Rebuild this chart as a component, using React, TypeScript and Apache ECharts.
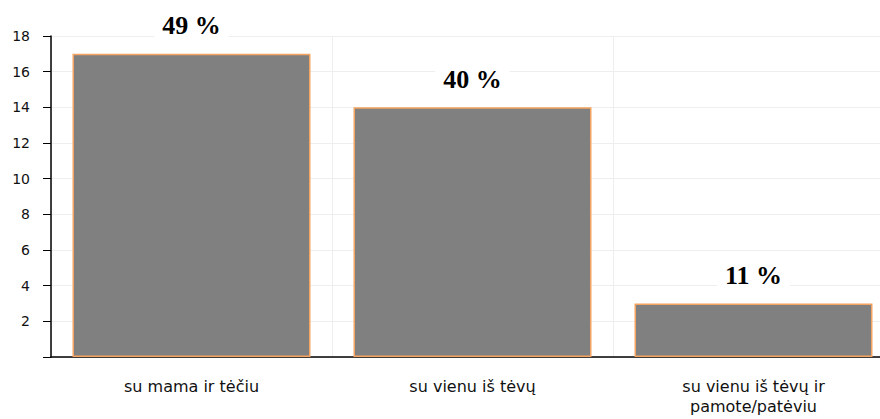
import React, { useEffect, useRef } from "react";
import * as echarts from "echarts";

const categories = ["su mama ir tėčiu", "su vienu iš tėvų", "su vienu iš tėvų ir\npamote/patėviu"];
const values = [17, 14, 3];
const percentLabels = ["49 %", "40 %", "11 %"];

export default function App() {
  const ref = useRef<HTMLDivElement>(null);
  useEffect(() => {
    const chart = echarts.init(ref.current!, null, { renderer: "svg" });
    chart.setOption({
      animation: false,
      grid: { left: 51, top: 36, width: 843, bottom: 62, containLabel: false, outerBoundsMode: "none" },
      xAxis: {
        type: "category",
        data: categories,
        axisLine: { lineStyle: { color: "#000", width: 1.5 } },
        axisTick: { alignWithLabel: true, length: 8, lineStyle: { color: "#000" } },
        axisLabel: { color: "#111", fontFamily: "DejaVu Sans", fontSize: 16, margin: 19, lineHeight: 20 },
        splitLine: { show: true, lineStyle: { color: "#eeeeee" } },
      },
      yAxis: {
        type: "value",
        min: 0,
        max: 18,
        interval: 2,
        axisLine: { show: true, lineStyle: { color: "#000", width: 1.5 } },
        axisTick: { show: true, length: 8, lineStyle: { color: "#000" } },
        axisLabel: {
          color: "#111",
          fontFamily: "DejaVu Sans",
          fontSize: 14,
          margin: 21,
          formatter: (v: number) => (v === 0 ? "" : String(v)),
        },
        splitLine: { show: true, lineStyle: { color: "#eeeeee" } },
      },
      series: [
        {
          type: "bar",
          data: values,
          barWidth: 238,
          itemStyle: { color: "#808080", borderColor: "#f4a460", borderWidth: 1.5 },
          label: {
            show: true,
            position: "top",
            distance: 15,
            formatter: (p: any) => percentLabels[p.dataIndex],
            fontFamily: "Liberation Serif",
            fontWeight: "bold",
            fontSize: 26,
            color: "#000",
            backgroundColor: "#fff",
            padding: [0, 8],
          },
        },
      ],
    });
    return () => chart.dispose();
  }, []);
  return <div ref={ref} style={{ width: 880, height: 419, position: "absolute", left: 0, top: 0 }} />;
}
